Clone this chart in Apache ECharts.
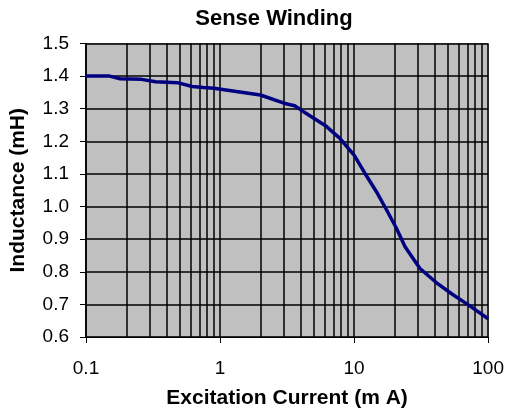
<!DOCTYPE html>
<html><head><meta charset="utf-8">
<script src="https://cdn.jsdelivr.net/npm/echarts@6/dist/echarts.min.js"></script>
<style>html,body{margin:0;padding:0;background:#fff}#c{width:507px;height:414px}</style>
</head><body><div id="c"></div>
<script>
const titleText = 'Sense Winding';
const xTitle = 'Excitation Current (m A)';
const yTitle = 'Inductance (mH)';
const current = [0.1, 0.15, 0.18, 0.26, 0.33, 0.48, 0.62, 0.75, 0.9, 2, 3, 3.6, 4.2, 6.2, 7.8, 10, 12, 14.6, 17.4, 20.6, 24, 31, 41, 54, 72, 100];
const inductance = [1.400, 1.400, 1.392, 1.390, 1.383, 1.380, 1.368, 1.365, 1.363, 1.342, 1.317, 1.309, 1.291, 1.246, 1.210, 1.158, 1.103, 1.047, 0.991, 0.935, 0.877, 0.810, 0.767, 0.731, 0.697, 0.656];
const minorGridX = [0.2,0.3,0.4,0.5,0.6,0.7,0.8,0.9,2,3,4,5,6,7,8,9,20,30,40,50,60,70,80,90];
const xMin = 0.1, xMax = 100;
const yMin = 0.6, yMax = 1.5, yStep = 0.1;

const font = '"Liberation Sans", Arial, sans-serif';
const chart = echarts.init(document.getElementById('c'), null, {renderer: 'canvas'});
chart.setOption({
  animation: false,
  backgroundColor: '#ffffff',
  title: {
    text: titleText, left: 269, top: 3, textAlign: 'center',
    textStyle: {fontFamily: font, fontWeight: 'bold', fontSize: 22, color: '#000'}
  },
  grid: {
    left: 85, right: 18, top: 43.5, bottom: 77,
    show: true, backgroundColor: '#C0C0C0', borderColor: '#808080', borderWidth: 1
  },
  xAxis: {
    type: 'log', logBase: 10, min: xMin, max: xMax,
    name: xTitle, nameLocation: 'middle', nameGap: 51,
    nameTextStyle: {fontFamily: font, fontWeight: 'bold', fontSize: 21, color: '#000'},
    axisLine: {show: true, lineStyle: {color: '#000', width: 1}},
    axisTick: {show: true, length: 6, lineStyle: {color: '#000'}},
    axisLabel: {fontFamily: font, fontSize: 19, color: '#000', margin: 22,
      formatter: v => String(+v.toPrecision(6))},
    splitLine: {show: true, lineStyle: {color: '#000', width: 1.5}},
    minorTick: {show: false}, minorSplitLine: {show: false}
  },
  yAxis: {
    type: 'value', min: yMin, max: yMax, interval: yStep,
    name: yTitle, nameLocation: 'middle', nameGap: 57, nameRotate: 90,
    nameTextStyle: {fontFamily: font, fontWeight: 'bold', fontSize: 21, color: '#000'},
    axisLine: {show: true, lineStyle: {color: '#000', width: 1.5}},
    axisTick: {show: true, length: 6, lineStyle: {color: '#000'}},
    axisLabel: {fontFamily: font, fontSize: 19, color: '#000', margin: 17,
      formatter: v => v.toFixed(1)},
    splitLine: {show: true, lineStyle: {color: '#000', width: 1.5}}
  },
  series: [
    {
      type: 'line', data: [], z: 1, silent: true,
      markLine: {
        silent: true, symbol: 'none', label: {show: false},
        lineStyle: {color: '#000', width: 1.5, type: 'solid'},
        data: minorGridX.map(v => ({xAxis: v}))
      }
    },
    {
      type: 'line', z: 5,
      data: current.map((c, i) => [c, inductance[i]]),
      showSymbol: false, symbol: 'none',
      lineStyle: {color: '#000080', width: 3.5},
      itemStyle: {color: '#000080'}
    }
  ]
});
</script></body></html>
